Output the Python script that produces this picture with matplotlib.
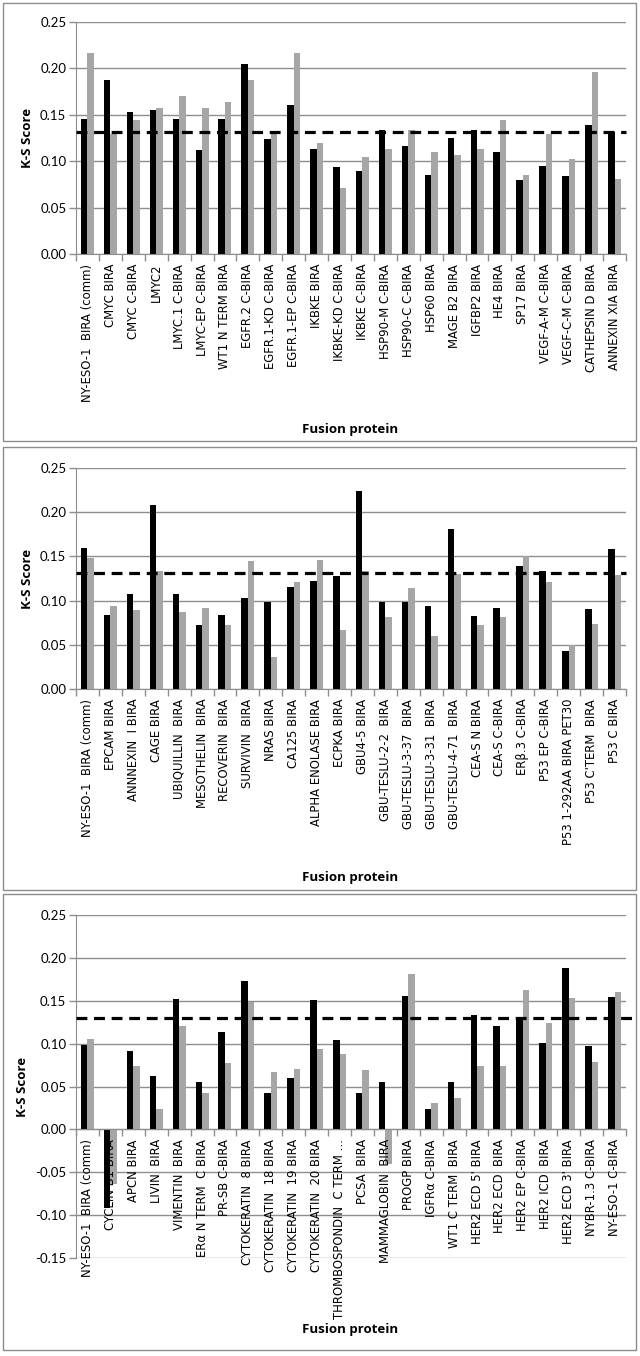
import matplotlib
matplotlib.use("Agg")
import matplotlib.pyplot as plt
from matplotlib.patches import Rectangle
import numpy as np

W, H = 640, 1356

# ---------------- data ----------------
labels1 = ["NY-ESO-1  BIRA (comm)", "CMYC BIRA", "CMYC C-BIRA", "LMYC2", "LMYC.1 C-BIRA",
           "LMYC-EP C-BIRA", "WT1 N TERM BIRA", "EGFR.2 C-BIRA", "EGFR.1-KD C-BIRA",
           "EGFR.1-EP C-BIRA", "IKBKE BIRA", "IKBKE-KD C-BIRA", "IKBKE C-BIRA",
           "HSP90-M C-BIRA", "HSP90-C C-BIRA", "HSP60 BIRA", "MAGE B2 BIRA", "IGFBP2 BIRA",
           "HE4 BIRA", "SP17 BIRA", "VEGF-A-M C-BIRA", "VEGF-C-M C-BIRA",
           "CATHEPSIN D BIRA", "ANNEXIN XIA BIRA"]
black1 = [0.145, 0.187, 0.153, 0.155, 0.145, 0.112, 0.146, 0.205, 0.124, 0.161, 0.113, 0.094,
          0.089, 0.134, 0.116, 0.085, 0.125, 0.134, 0.110, 0.080, 0.095, 0.084, 0.139, 0.132]
grey1 = [0.217, 0.129, 0.144, 0.157, 0.170, 0.157, 0.164, 0.188, 0.131, 0.217, 0.120, 0.071,
         0.104, 0.113, 0.134, 0.110, 0.107, 0.113, 0.144, 0.085, 0.129, 0.102, 0.196, 0.081]
thresh1 = 0.132

labels2 = ["NY-ESO-1  BIRA (comm)", "EPCAM BIRA", "ANNNEXIN  I BIRA", "CAGE BIRA",
           "UBIQUILLIN  BIRA", "MESOTHELIN  BIRA", "RECOVERIN  BIRA", "SURVIVIN  BIRA",
           "NRAS BIRA", "CA125 BIRA", "ALPHA ENOLASE BIRA", "ECPKA BIRA", "GBU4-5 BIRA",
           "GBU-TESLU-2-2  BIRA", "GBU-TESLU-3-37  BIRA", "GBU-TESLU-3-31  BIRA",
           "GBU-TESLU-4-71  BIRA", "CEA-S N BIRA", "CEA-S C-BIRA", "ERβ.3 C-BIRA",
           "P53 EP C-BIRA", "P53 1-292AA BIRA PET30", "P53 C'TERM  BIRA", "P53 C BIRA"]
black2 = [0.159, 0.084, 0.107, 0.208, 0.108, 0.072, 0.084, 0.103, 0.098, 0.115, 0.122, 0.128,
          0.224, 0.098, 0.098, 0.094, 0.181, 0.083, 0.092, 0.139, 0.134, 0.043, 0.091, 0.158]
grey2 = [0.148, 0.094, 0.089, 0.133, 0.087, 0.092, 0.072, 0.145, 0.036, 0.121, 0.146, 0.067,
         0.133, 0.082, 0.114, 0.060, 0.130, 0.072, 0.082, 0.150, 0.121, 0.050, 0.074, 0.129]
thresh2 = 0.131

labels3 = ["NY-ESO-1  BIRA (comm)", "CYCLIN B1 BIRA", "APCN BIRA", "LIVIN  BIRA",
           "VIMENTIN  BIRA", "ERα N TERM  C BIRA", "PR-SB C-BIRA", "CYTOKERATIN  8 BIRA",
           "CYTOKERATIN  18 BIRA", "CYTOKERATIN  19 BIRA", "CYTOKERATIN  20 BIRA",
           "THROMBOSPONDIN  C TERM ...", "PCSA  BIRA", "MAMMAGLOBIN  BIRA", "PROGP BIRA",
           "IGFRα C-BIRA", "WT1 C TERM  BIRA", "HER2 ECD 5' BIRA", "HER2 ECD  BIRA",
           "HER2 EP C-BIRA", "HER2 ICD  BIRA", "HER2 ECD 3' BIRA", "NYBR-1.3 C-BIRA",
           "NY-ESO-1 C-BIRA"]
black3 = [0.098, -0.092, 0.091, 0.062, 0.152, 0.055, 0.113, 0.173, 0.042, 0.060, 0.151, 0.104,
          0.042, 0.055, 0.156, 0.024, 0.055, 0.133, 0.121, 0.131, 0.101, 0.188, 0.097, 0.154]
grey3 = [0.105, -0.064, 0.074, 0.024, 0.121, 0.042, 0.077, 0.148, 0.067, 0.070, 0.094, 0.088,
         0.069, -0.040, 0.181, 0.031, 0.037, 0.074, 0.074, 0.163, 0.124, 0.153, 0.078, 0.160]
thresh3 = 0.130

yticks_pos = [0.00, 0.05, 0.10, 0.15, 0.20, 0.25]
yticks_full = [-0.15, -0.10, -0.05, 0.00, 0.05, 0.10, 0.15, 0.20, 0.25]

GRID = "#8e8e8e"
BLACK = "#000000"
GREY = "#a6a6a6"

fig = plt.figure(figsize=(W / 100, H / 100), dpi=100)
fig.patch.set_facecolor("white")


def rect(left, right, top, bottom):
    return [left / W, 1 - bottom / H, (right - left) / W, (bottom - top) / H]


def panel(labels, black, grey, thresh, top, bottom, ylim, yticks, xlabel_y, box,
          dash_right=1.0):
    ax = fig.add_axes(rect(76, 626, top, bottom))
    n = len(labels)
    x = np.arange(n)
    bw = 0.285
    ax.bar(x - bw / 2, black, bw, color=BLACK, zorder=3)
    ax.bar(x + bw / 2, grey, bw, color=GREY, zorder=3)
    ax.set_xlim(-0.5, n - 0.5)
    ax.set_ylim(*ylim)
    ax.set_yticks(yticks)
    ax.set_yticklabels([f"{v:.2f}" for v in yticks], family="Lato", fontsize=9.5)
    ax.yaxis.grid(True, color=GRID, linewidth=1.0, zorder=0)
    ax.set_axisbelow(True)
    for s in ["top", "right"]:
        ax.spines[s].set_visible(False)
    ax.spines["left"].set_color(GRID)
    ax.spines["bottom"].set_color(GRID)
    ax.spines["bottom"].set_position(("data", 0))
    ax.spines["bottom"].set_zorder(4)
    ax.tick_params(axis="y", length=5, color=GRID, width=1, pad=2)
    # category ticks between categories, labels at centres
    ax.set_xticks(np.arange(-0.5, n, 1.0))
    ax.set_xticklabels([])
    ax.set_xticks(x, minor=True)
    ax.set_xticklabels(labels, minor=True, rotation=90, family="DejaVu Sans",
                       fontsize=8.4, va="top", ha="center")
    ax.tick_params(axis="x", which="major", length=5, color=GRID, width=1, direction="out")
    ax.tick_params(axis="x", which="minor", length=0, pad=7)
    ax.xaxis.set_zorder(6)
    ax.plot([0, dash_right], [thresh, thresh], transform=ax.get_yaxis_transform(),
            color="black", linestyle=(0, (3.4, 2.1)), linewidth=2.3, zorder=5,
            clip_on=False)
    ax.set_ylabel("K-S Score", family="Open Sans", fontweight="bold", fontsize=9.5,
                  labelpad=4)
    fig.text(350 / W, 1 - xlabel_y / H, "Fusion protein", family="Open Sans",
             fontweight="bold", fontsize=9.5, ha="center", va="center",
             fontstretch="condensed")
    bl, bt, br, bb = box
    fig.patches.append(Rectangle((bl / W, 1 - bb / H), (br - bl) / W, (bb - bt) / H,
                                 transform=fig.transFigure, fill=False,
                                 edgecolor="#8c8c8c", linewidth=1.0))
    return ax


panel(labels1, black1, grey1, thresh1, 22, 254, (0, 0.25), yticks_pos, 430, (3, 3, 636, 441))
panel(labels2, black2, grey2, thresh2, 468, 689, (0, 0.25), yticks_pos, 877, (3, 447, 636, 890))
panel(labels3, black3, grey3, thresh3, 915, 1258, (-0.15, 0.25), yticks_full, 1330,
      (3, 894, 636, 1350), dash_right=1.012)

fig.savefig("out.png", dpi=100, facecolor="white")
